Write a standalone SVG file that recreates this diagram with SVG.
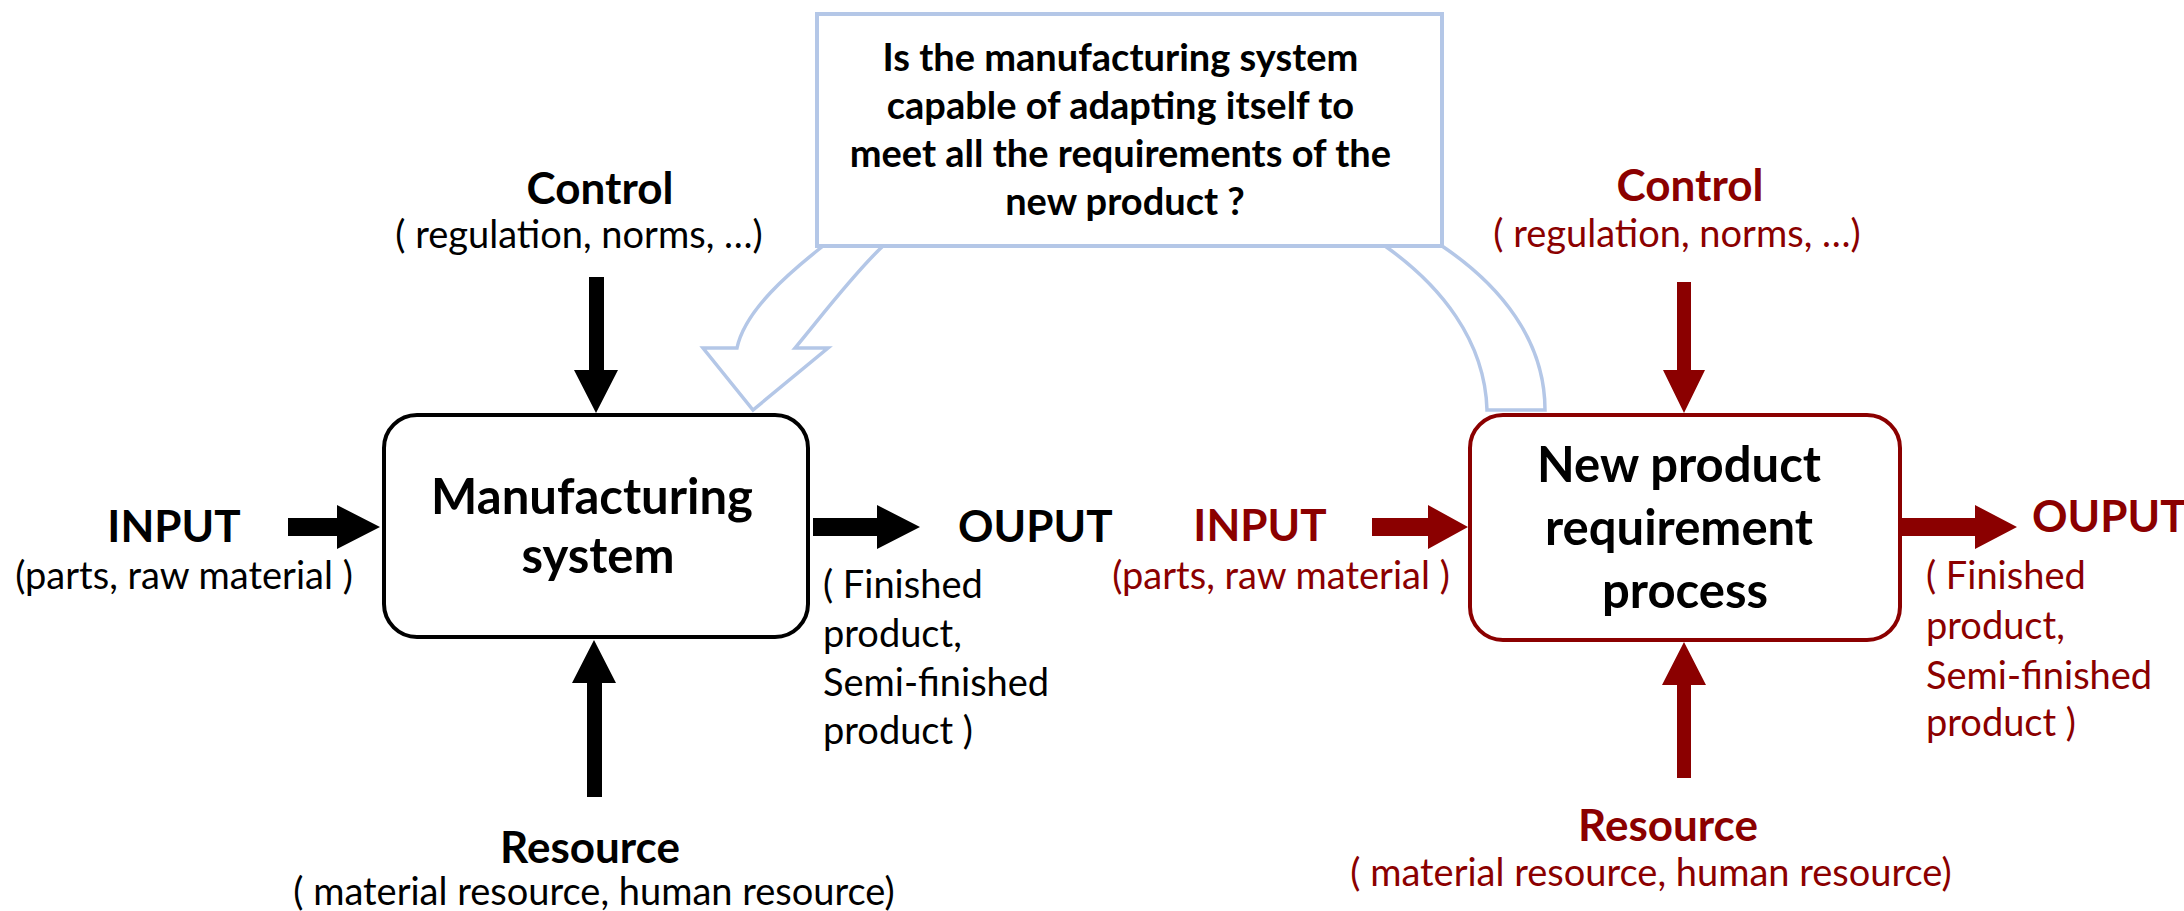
<svg xmlns="http://www.w3.org/2000/svg" width="2184" height="911" viewBox="0 0 2184 911">
  <style>
    .bg { fill: #ffffff; }
    text { font-family: Lato, "Open Sans", "Liberation Sans", sans-serif; }
    .head { font-weight: bold; font-size: 44px; }
    .title { font-weight: bold; font-size: 49px; fill: #000000; }
    .sub { font-size: 38px; }
    .ask { font-weight: bold; font-size: 38px; fill: #000000; }
    .blk { fill: #000000; }
    .red { fill: #8b0000; }
    .box-blk { fill: #ffffff; stroke: #000000; stroke-width: 4; }
    .box-red { fill: #ffffff; stroke: #8b0000; stroke-width: 4; }
    .callout { fill: #ffffff; stroke: #b4c7e7; stroke-width: 4; }
    .bend { fill: #ffffff; stroke: #b4c7e7; stroke-width: 3.5; stroke-linejoin: miter; }
  </style>

  <rect class="bg" x="0" y="0" width="2184" height="911"/>

  <!-- curved block arrow: from the new-product box up behind the question box and down to the manufacturing box -->
  <g id="connectors">
    <path id="bend-arrow" class="bend" d="M 1487 410 L 1545 410 C 1545 340 1500 285 1442 246 C 1380 210 1250 172 1130 172 C 1000 172 880 200 823 246 C 790 272 745 310 737 348 L 703 348 L 753 410 L 828 348 L 795 348 C 820 318 855 272 883 246 C 950 205 1050 190 1140 190 C 1250 190 1340 210 1385 246 C 1440 285 1485 340 1487 410 Z"/>

    <!-- left process arrows -->
    <polygon id="arrow-control-left" class="blk" points="589,277 604,277 604,370 618,370 596,413 574,370 589,370"/>
    <polygon id="arrow-resource-left" class="blk" points="587,797 602,797 602,683 616,683 594,640 572,683 587,683"/>
    <polygon id="arrow-input-left" class="blk" points="288,518 337,518 337,505 380,527 337,549 337,536 288,536"/>
    <polygon id="arrow-output-left" class="blk" points="813,518 877,518 877,505 920,527 877,549 877,536 813,536"/>

    <!-- right process arrows -->
    <polygon id="arrow-control-right" class="red" points="1677,282 1691,282 1691,370 1705,370 1684,413 1663,370 1677,370"/>
    <polygon id="arrow-resource-right" class="red" points="1677,778 1691,778 1691,685 1706,685 1684,642 1662,685 1677,685"/>
    <polygon id="arrow-input-right" class="red" points="1372,518 1428,518 1428,505 1468,527 1428,549 1428,536 1372,536"/>
    <polygon id="arrow-output-right" class="red" points="1901,518 1975,518 1975,505 2017,527 1975,549 1975,536 1901,536"/>
  </g>

  <!-- question box -->
  <g id="node-question">
    <rect class="callout" x="817" y="14" width="625" height="232"/>
    <text class="ask" text-anchor="middle">
      <tspan x="1125" y="71">Is the manufacturing system</tspan>
      <tspan x="1125" y="119">capable of adapting itself to</tspan>
      <tspan x="1125" y="167">meet all the requirements of the</tspan>
      <tspan x="1125" y="215">new product ?</tspan>
    </text>
  </g>

  <!-- existing manufacturing system -->
  <g id="node-manufacturing">
    <rect class="box-blk" x="384" y="415" width="424" height="222" rx="33" ry="33"/>
    <text class="title" text-anchor="middle">
      <tspan x="598" y="514">Manufacturing</tspan>
      <tspan x="598" y="573">system</tspan>
    </text>
  </g>

  <g id="label-control-left" class="blk">
    <text class="head" x="600" y="204" text-anchor="middle">Control</text>
    <text class="sub" x="579" y="248" text-anchor="middle">( regulation, norms, …)</text>
  </g>

  <g id="label-input-left" class="blk">
    <text class="head" x="174" y="542" text-anchor="middle">INPUT</text>
    <text class="sub" x="184" y="589" text-anchor="middle">(parts, raw material )</text>
  </g>

  <g id="label-output-left" class="blk">
    <text class="head" x="958" y="542">OUPUT</text>
    <text class="sub">
      <tspan x="823" y="598">( Finished</tspan>
      <tspan x="823" y="647">product,</tspan>
      <tspan x="823" y="696">Semi-finished</tspan>
      <tspan x="823" y="744">product )</tspan>
    </text>
  </g>

  <g id="label-resource-left" class="blk">
    <text class="head" x="590" y="863" text-anchor="middle">Resource</text>
    <text class="sub" x="594" y="905" text-anchor="middle">( material resource, human resource)</text>
  </g>

  <!-- new product requirement process -->
  <g id="node-new-product">
    <rect class="box-red" x="1470" y="415" width="430" height="225" rx="33" ry="33"/>
    <text class="title" text-anchor="middle">
      <tspan x="1685" y="482">New product</tspan>
      <tspan x="1685" y="545">requirement</tspan>
      <tspan x="1685" y="608">process</tspan>
    </text>
  </g>

  <g id="label-control-right" class="red">
    <text class="head" x="1690" y="201" text-anchor="middle">Control</text>
    <text class="sub" x="1677" y="247" text-anchor="middle">( regulation, norms, …)</text>
  </g>

  <g id="label-input-right" class="red">
    <text class="head" x="1260" y="541" text-anchor="middle">INPUT</text>
    <text class="sub" x="1281" y="589" text-anchor="middle">(parts, raw material )</text>
  </g>

  <g id="label-output-right" class="red">
    <text class="head" x="2032" y="532">OUPUT</text>
    <text class="sub">
      <tspan x="1926" y="589">( Finished</tspan>
      <tspan x="1926" y="639">product,</tspan>
      <tspan x="1926" y="689">Semi-finished</tspan>
      <tspan x="1926" y="736">product )</tspan>
    </text>
  </g>

  <g id="label-resource-right" class="red">
    <text class="head" x="1668" y="841" text-anchor="middle">Resource</text>
    <text class="sub" x="1651" y="886" text-anchor="middle">( material resource, human resource)</text>
  </g>
</svg>
